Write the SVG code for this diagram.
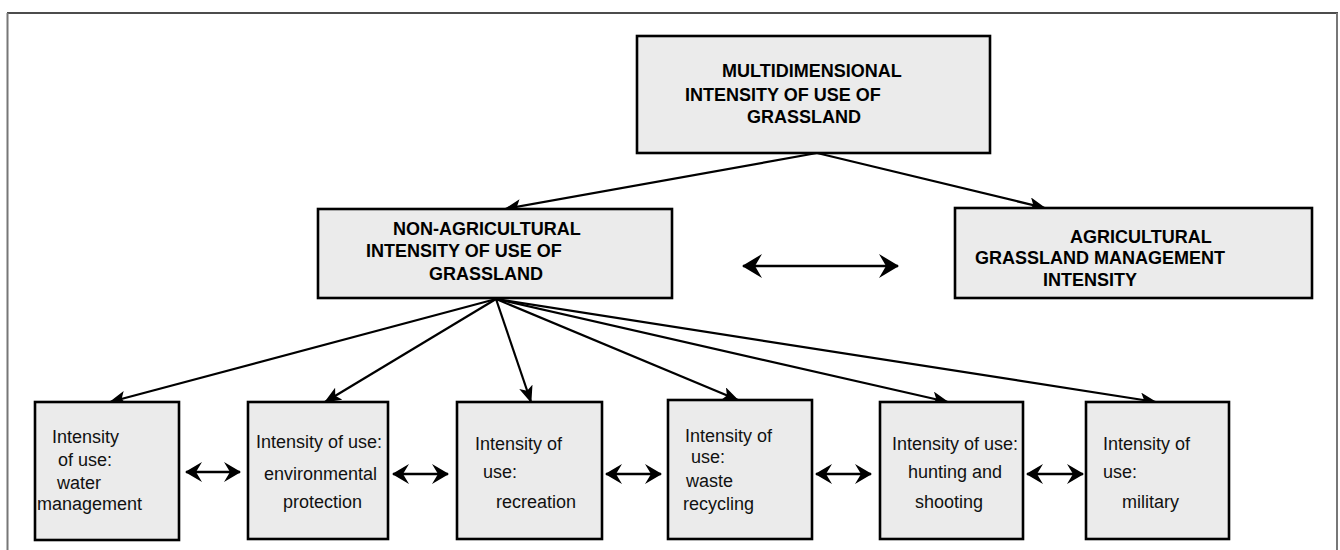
<svg xmlns="http://www.w3.org/2000/svg" width="1340" height="550" viewBox="0 0 1340 550">
<style>
.box{fill:#ebebeb;stroke:#000;stroke-width:2.6}
.hd{font-family:"Liberation Sans",Arial,sans-serif;font-size:18px;font-weight:bold;fill:#000}
.tx{font-family:"Liberation Sans",Arial,sans-serif;font-size:18px;fill:#111}
.ln{stroke:#000;stroke-width:2.2;fill:none}
.dbl{stroke:#000;stroke-width:2.6;fill:none}
</style>
<defs>
<marker id="ah" markerUnits="userSpaceOnUse" markerWidth="17" markerHeight="14" refX="16" refY="7" orient="auto">
<path d="M0,0 L17,7 L0,14 L4,7 z" fill="#000"/>
</marker>
<marker id="dh" markerUnits="userSpaceOnUse" markerWidth="17" markerHeight="20" refX="16" refY="10" orient="auto-start-reverse">
<path d="M0,0 L17,10 L0,20 L6,10 z" fill="#000"/>
</marker>
<marker id="dh2" markerUnits="userSpaceOnUse" markerWidth="20" markerHeight="24" refX="19" refY="12" orient="auto-start-reverse">
<path d="M0,0 L20,12 L0,24 L7,12 z" fill="#000"/>
</marker>
</defs>
<rect x="0" y="0" width="1340" height="550" fill="#fff"/>
<g id="frame">
<line x1="7" y1="13" x2="1338" y2="13" stroke="#111" stroke-width="1.5"/>
<line x1="7.5" y1="13" x2="7.5" y2="550" stroke="#777" stroke-width="2"/>
<line x1="1337" y1="13" x2="1337" y2="550" stroke="#777" stroke-width="2"/>
</g>
<g id="connectors">
<line class="ln" x1="817" y1="153" x2="505" y2="209" marker-end="url(#ah)"/>
<line class="ln" x1="817" y1="153" x2="1045" y2="208" marker-end="url(#ah)"/>
<line class="ln" x1="496" y1="299" x2="110" y2="402" marker-end="url(#ah)"/>
<line class="ln" x1="496" y1="299" x2="325" y2="402" marker-end="url(#ah)"/>
<line class="ln" x1="496" y1="299" x2="531" y2="402" marker-end="url(#ah)"/>
<line class="ln" x1="496" y1="299" x2="738" y2="400" marker-end="url(#ah)"/>
<line class="ln" x1="496" y1="299" x2="948" y2="402" marker-end="url(#ah)"/>
<line class="ln" x1="496" y1="299" x2="1156" y2="402" marker-end="url(#ah)"/>
<line class="dbl" x1="743" y1="266" x2="898" y2="266" marker-start="url(#dh2)" marker-end="url(#dh2)"/>
<line class="dbl" x1="186" y1="472" x2="240" y2="472" marker-start="url(#dh)" marker-end="url(#dh)"/>
<line class="dbl" x1="393" y1="474" x2="448" y2="474" marker-start="url(#dh)" marker-end="url(#dh)"/>
<line class="dbl" x1="606" y1="474" x2="661" y2="474" marker-start="url(#dh)" marker-end="url(#dh)"/>
<line class="dbl" x1="816" y1="474" x2="871" y2="474" marker-start="url(#dh)" marker-end="url(#dh)"/>
<line class="dbl" x1="1027" y1="474" x2="1083" y2="474" marker-start="url(#dh)" marker-end="url(#dh)"/>
</g>
<g id="n-multi">
<rect class="box" x="637" y="36" width="353" height="117"/>
<text class="hd" x="722" y="77">MULTIDIMENSIONAL</text>
<text class="hd" x="685" y="101">INTENSITY OF USE OF</text>
<text class="hd" x="747" y="123">GRASSLAND</text>
</g>
<g id="n-nonag">
<rect class="box" x="318" y="209" width="354" height="89"/>
<text class="hd" x="393" y="235">NON-AGRICULTURAL</text>
<text class="hd" x="366" y="257">INTENSITY OF USE OF</text>
<text class="hd" x="429" y="280">GRASSLAND</text>
</g>
<g id="n-ag">
<rect class="box" x="955" y="208" width="357" height="90"/>
<text class="hd" x="1070" y="243">AGRICULTURAL</text>
<text class="hd" x="975" y="264">GRASSLAND MANAGEMENT</text>
<text class="hd" x="1043" y="286">INTENSITY</text>
</g>
<g id="n-water">
<rect class="box" x="35" y="402" width="144" height="138"/>
<text class="tx" x="52" y="443">Intensity</text>
<text class="tx" x="58" y="466">of use:</text>
<text class="tx" x="57" y="489">water</text>
<text class="tx" x="37" y="510">management</text>
</g>
<g id="n-env">
<rect class="box" x="248" y="402" width="140" height="137"/>
<text class="tx" x="256" y="448">Intensity of use:</text>
<text class="tx" x="264" y="480">environmental</text>
<text class="tx" x="283" y="508">protection</text>
</g>
<g id="n-rec">
<rect class="box" x="457" y="402" width="145" height="137"/>
<text class="tx" x="475" y="450">Intensity of</text>
<text class="tx" x="483" y="478">use:</text>
<text class="tx" x="496" y="508">recreation</text>
</g>
<g id="n-waste">
<rect class="box" x="668" y="400" width="144" height="139"/>
<text class="tx" x="685" y="442">Intensity of</text>
<text class="tx" x="691" y="463">use:</text>
<text class="tx" x="686" y="487">waste</text>
<text class="tx" x="683" y="510">recycling</text>
</g>
<g id="n-hunt">
<rect class="box" x="880" y="402" width="143" height="137"/>
<text class="tx" x="892" y="450">Intensity of use:</text>
<text class="tx" x="908" y="478">hunting and</text>
<text class="tx" x="915" y="508">shooting</text>
</g>
<g id="n-mil">
<rect class="box" x="1086" y="402" width="143" height="137"/>
<text class="tx" x="1103" y="450">Intensity of</text>
<text class="tx" x="1103" y="478">use:</text>
<text class="tx" x="1122" y="508">military</text>
</g>
</svg>
